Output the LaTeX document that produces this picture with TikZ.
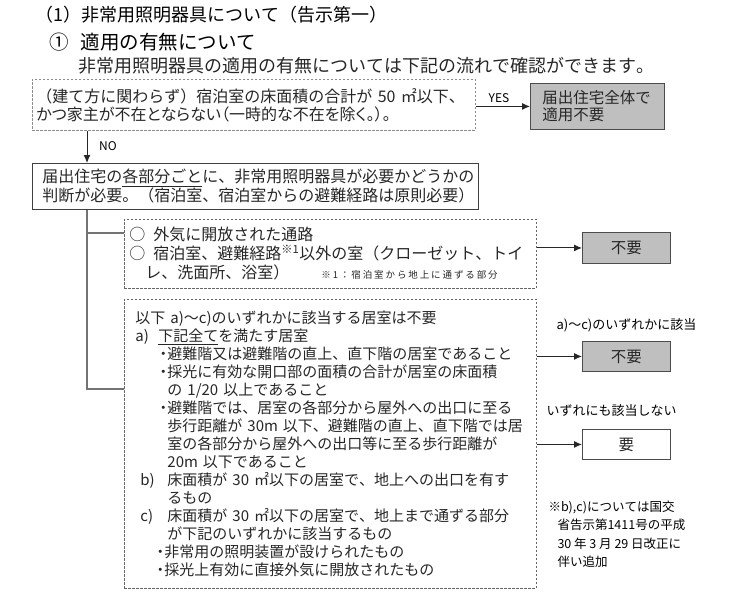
\documentclass[tikz,border=0pt]{standalone}
\usepackage{fontspec}
\setmainfont{Noto Sans CJK JP}[Kerning=Off]
\usetikzlibrary{arrows.meta,positioning}
\setlength{\parindent}{0pt}
\newcommand{\bodyfont}{\fontsize{15}{18}\selectfont}
\newcommand{\bul}{\makebox[8pt][c]{・}}
\newcommand{\narrow}{\addfontfeatures{RawFeature=+palt}}

\begin{document}
\begin{tikzpicture}[x=1pt,y=-1pt,>={Latex[length=8pt,width=7pt]},line width=1pt,
  dash box/.style={draw=black!45,dash pattern=on 2.5pt off 1.5pt,line width=0.9pt,anchor=north west,
    inner ysep=0pt,align=left,font=\bodyfont,text=black!85},
  plain box/.style={draw=black!75,line width=0.9pt,anchor=north west,inner ysep=0pt,align=left,
    font=\bodyfont,text=black!85},
  result/.style={draw=black!70,fill=black!25,line width=0.9pt,anchor=north west,inner sep=0pt,
    font=\fontsize{15.5}{18}\selectfont,text=black!85},
  tag/.style={font=\fontsize{13}{16}\selectfont,inner sep=0pt},
  trunk/.style={draw=black!55,line width=1.2pt}]

\useasboundingbox (0,0) rectangle (749,598);

% headings
\node[anchor=west,inner sep=0pt,font=\fontsize{18}{20}\selectfont] (title) at (35,15) {（1）非常用照明器具について（告示第一）};
\node[anchor=west,inner sep=0pt,font=\fontsize{19.5}{22}\selectfont] (sub) at (49,42) {①\hspace{12pt}適用の有無について};
\node[anchor=west,inner sep=0pt,font=\fontsize{18}{20}\selectfont,text=black!85] (lead) at (78,66) {非常用照明器具の適用の有無については下記の流れで確認ができます。};

% first question
\node[dash box,inner xsep=4pt,text width=435pt,minimum height=51pt,font=\fontsize{16}{18}\selectfont] (cond) at (32,79)
  {（建て方に関わらず）宿泊室の床面積の合計が~50~㎡以下、\\
   {\narrow かつ家主が不在とならない（一時的な不在を除く。）。}};
\node[result,inner xsep=12pt,text width=110pt,minimum height=46pt,align=left,
  font=\fontsize{15.5}{17}\selectfont] (whole) at (530,83) {届出住宅全体で\\適用不要};
\node[inner sep=0pt,font=\fontsize{12}{14}\selectfont] (yes) at (499,98) {YES};

\node[plain box,inner xsep=10pt,text width=426pt,minimum height=46pt,
  font=\fontsize{16}{19}\selectfont] (judge) at (32,163)
  {届出住宅の\underline{各部分ごと}に、非常用照明器具が必要かどうかの\\
   判断が必要。（宿泊室、宿泊室からの避難経路は原則必要）};
\node[inner sep=0pt,font=\fontsize{12}{14}\selectfont] (no) at (108,146) {NO};

% parts that never need it
\node[dash box,draw=black!60,inner xsep=5pt,text width=402pt,minimum height=69pt,
  font=\fontsize{16}{19}\selectfont] (other) at (124,219)
  {○\hspace{0.5em}外気に開放された通路\\
   ○\hspace{0.5em}宿泊室、避難経路\textsuperscript{※1}以外の室（クローゼット、トイ\\
   \hspace*{1em}レ、洗面所、浴室）\hspace*{32pt}{\fontsize{9.5}{12}\selectfont\addfontfeatures{LetterSpace=20}※1：宿泊室から地上に通ずる部分}};

% living rooms
\node[dash box,draw=black!60,inner xsep=11pt,text width=390pt,minimum height=289pt] (room) at (124,299)
  {以下~a)～c)のいずれかに該当する居室は不要\\
   \makebox[23pt][l]{a)}\underline{下記全て}を満たす居室\\
   \hspace*{24pt}\bul 避難階又は避難階の直上、直下階の居室であること\\
   \hspace*{24pt}\bul 採光に有効な開口部の面積の合計が居室の床面積\\
   \hspace*{32pt}の~1/20~以上であること\\
   \hspace*{24pt}\bul 避難階では、居室の各部分から屋外への出口に至る\\
   \hspace*{32pt}歩行距離が~30m~以下、避難階の直上、直下階では居\\
   \hspace*{32pt}室の各部分から屋外への出口等に至る歩行距離が\\
   \hspace*{32pt}20m~以下であること\\
   \makebox[32pt][l]{\hspace*{5pt}b)}床面積が~30~㎡以下の居室で、地上への出口を有す\\
   \hspace*{32pt}るもの\\
   \makebox[32pt][l]{\hspace*{5pt}c)}床面積が~30~㎡以下の居室で、地上まで通ずる部分\\
   \hspace*{32pt}が下記のいずれかに該当するもの\\
   \hspace*{21pt}\bul 非常用の照明装置が設けられたもの\\
   \hspace*{21pt}\bul 採光上有効に直接外気に開放されたもの};

% outcomes
\node[result,minimum width=88pt,minimum height=31pt] (nu1) at (582,232) {不要};
\node[result,minimum width=88pt,minimum height=30pt] (nu2) at (582,341) {不要};
\node[result,fill=white,minimum width=88pt,minimum height=30pt] (req) at (582,429) {要};
\node[tag,above=8pt of nu2] (hit) {a)～c)のいずれかに該当};
\node[tag,anchor=west] (miss) at (546,411) {いずれにも該当しない};
\node[anchor=north west,inner sep=0pt,align=left,font=\fontsize{12.5}{18.5}\selectfont] (memo) at (548,500)
  {※b),c)については国交\\
   \hspace*{9pt}省告示第1411号の平成\\
   \hspace*{9pt}30 年 3 月 29 日改正に\\
   \hspace*{9pt}伴い追加};

% connectors
\coordinate (br1) at ([yshift=-14pt]other.north west);
\coordinate (br2) at ([yshift=-90pt]room.north west);
\draw[->,black!85] (cond.east |- whole) -- (whole);
\draw[->,black!85] ([xshift=55pt]cond.south west) -- ([xshift=55pt]judge.north west);
\draw[trunk] ([xshift=55pt]judge.south west) |- (br2);
\draw[trunk] ([xshift=55pt]judge.south west) |- (br1);
\draw[->,black!85] (other.east |- nu1) -- (nu1);
\draw[->,black!85] (room.east |- nu2) -- (nu2);
\draw[->,black!85] (room.east |- req) -- (req);

\end{tikzpicture}
\end{document}
